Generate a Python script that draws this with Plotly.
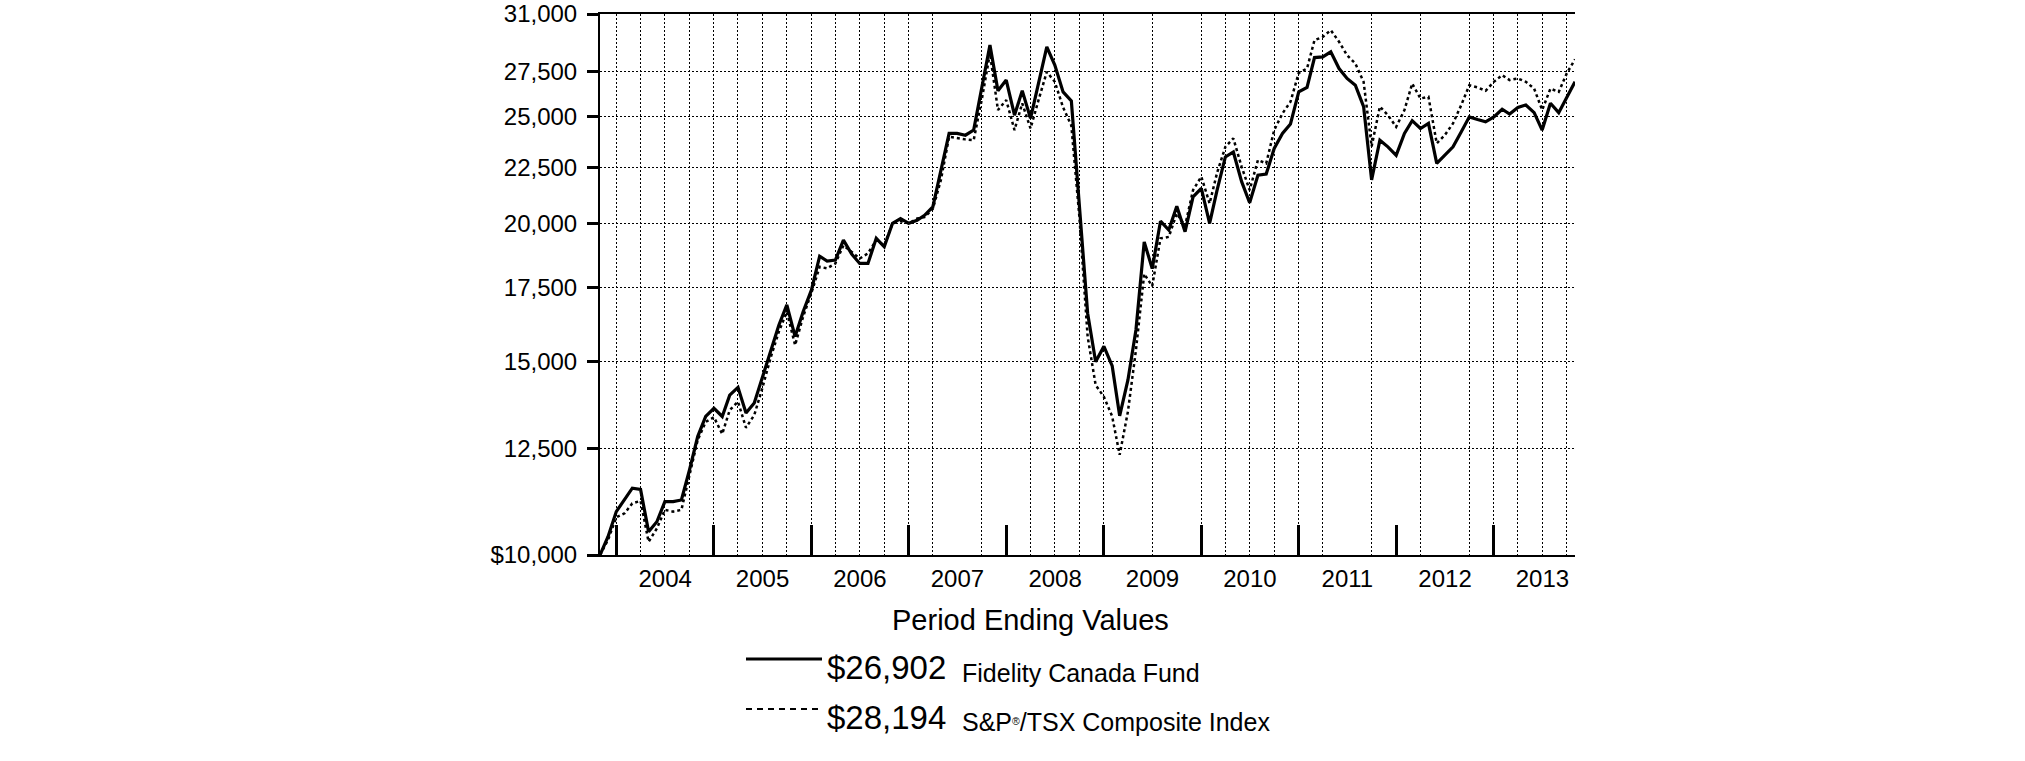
import plotly.graph_objects as go
import pandas as pd

# ---------------- data ----------------
try:
    months = pd.date_range("2003-10-31", "2013-10-31", freq="ME")
except ValueError:
    months = pd.date_range("2003-10-31", "2013-10-31", freq="M")
month_dates = list(months.strftime("%Y-%m-%d"))

fund_values = [
    10000, 10390, 10950, 11220, 11500, 11470, 10500, 10720, 11180, 11180,
    11220, 11940, 12810, 13360, 13590, 13360, 13970, 14200, 13460, 13740,
    14470, 15320, 16170, 16870, 15790, 16630, 17400, 18680, 18490, 18530,
    19320, 18760, 18400, 18400, 19390, 19050, 20010, 20210, 20010, 20140,
    20350, 20710, 22300, 24150, 24150, 24060, 24320, 26440, 29050, 26400,
    27000, 25090, 26400, 24920, 26900, 28940, 27860, 26340, 25850, 20720,
    16580, 14980, 15470, 14850, 13380, 14420, 16010, 19250, 18200, 20100,
    19730, 20740, 19660, 21150, 21530, 20010, 21450, 22990, 23230, 21830,
    20890, 22130, 22180, 23400, 24150, 24630, 26340, 26590, 28300, 28340,
    28640, 27660, 27090, 26710, 25540, 21910, 23810, 23480, 23070, 24150,
    24800, 24400, 24660, 22680, 23070, 23480, 24230, 25000, 24860, 24740,
    25000, 25400, 25150, 25500, 25630, 25220, 24320, 25720, 25220, 26040,
    26902,
]

index_values = [
    10000, 10320, 10820, 10910, 11140, 11200, 10280, 10570, 10990, 10950,
    10990, 11780, 12720, 13210, 13340, 12880, 13540, 13780, 13050, 13400,
    14170, 15100, 15950, 16630, 15510, 16460, 17300, 18270, 18210, 18400,
    19110, 18850, 18590, 18790, 19320, 19110, 20010, 20100, 20010, 20210,
    20270, 20620, 21900, 23980, 23900, 23850, 23810, 25890, 28550, 25360,
    25890, 24320, 25720, 24400, 25890, 27470, 26900, 25500, 24550, 20290,
    15790, 14270, 13920, 13360, 12330, 13500, 15350, 18000, 17550, 19390,
    19450, 20430, 19900, 21450, 22060, 20860, 22240, 23480, 23900, 22520,
    21450, 22840, 22680, 24320, 25180, 25800, 27410, 27660, 29350, 29550,
    29970, 29250, 28440, 27950, 26900, 23500, 25540, 25090, 24480, 25360,
    26800, 25980, 26070, 23650, 24060, 24660, 25630, 26710, 26590, 26400,
    26900, 27280, 27000, 27090, 26900, 26520, 25360, 26520, 26340, 27380,
    28194,
]

fund_name = "Fidelity Canada Fund"
index_name = "S&amp;P<span style='font-size:15px'><sup>®</sup></span>/TSX Composite Index"
fund_end_label = "$26,902"
index_end_label = "$28,194"
axis_title = "Period Ending Values"

year_labels = ["2004", "2005", "2006", "2007", "2008", "2009", "2010", "2011", "2012", "2013"]
year_label_dates = [f"{y}-07-01" for y in year_labels]
year_boundary_dates = [f"{int(y) - 1}-12-31" for y in year_labels]

y_tick_values = [10000, 12500, 15000, 17500, 20000, 22500, 25000, 27500, 31000]
y_tick_text = ["$10,000", "12,500", "15,000", "17,500", "20,000", "22,500", "25,000", "27,500", "31,000"]

# quarter-end grid lines (a few are absent in the original)
skipped_grid = {"2007-06-30", "2007-12-31", "2009-03-31", "2009-09-30",
                "2011-06-30", "2011-12-31", "2012-06-30"}
grid_dates = [d for d in month_dates[2::3] if d not in skipped_grid]

# ---------------- layout geometry ----------------
W, H = 2025, 761
L, R, T, B = 600, 450, 14, 206
PW, PH = W - L - R, H - T - B

def px_x(px):
    return (px - L) / PW

def px_y(py):
    return (T + PH - py) / PH

FONT = "Liberation Sans, Arial, Helvetica, sans-serif"
x_range = [month_dates[0], month_dates[-1]]

fig = go.Figure()
fig.add_trace(go.Scatter(
    x=month_dates, y=index_values, mode="lines", xaxis="x2",
    line=dict(color="black", width=2.5, dash="3px,3px"),
    name="S&P/TSX Composite Index", showlegend=False, hoverinfo="skip",
))
fig.add_trace(go.Scatter(
    x=month_dates, y=fund_values, mode="lines",
    line=dict(color="black", width=3.2),
    name=fund_name, showlegend=False, hoverinfo="skip",
))

fig.update_layout(
    width=W, height=H,
    margin=dict(l=L, r=R, t=T, b=B, pad=0, autoexpand=False),
    paper_bgcolor="white", plot_bgcolor="white",
    font=dict(family=FONT, color="black", size=24),
    showlegend=False,
    xaxis=dict(
        type="date", range=x_range, automargin=False,
        tickmode="array", tickvals=year_label_dates, ticktext=year_labels,
        ticks="", showgrid=False, zeroline=False,
        showline=True, linecolor="black", linewidth=2,
        tickfont=dict(family=FONT, size=24, color="black"),
        ticklabelstandoff=1,
        minor=dict(tickmode="array", tickvals=year_boundary_dates, ticks="inside",
                   ticklen=30, tickwidth=3, tickcolor="black", showgrid=False),
    ),
    xaxis2=dict(
        type="date", range=x_range, overlaying="x", side="top", anchor="y",
        automargin=False,
        tickmode="array", tickvals=grid_dates, showticklabels=False, ticks="",
        showgrid=True, gridcolor="black", gridwidth=1, griddash="2px,2px",
        showline=True, linecolor="black", linewidth=2, zeroline=False,
    ),
    yaxis=dict(
        type="log", range=[4, 4.491362], automargin=False,
        tickmode="array", tickvals=y_tick_values, ticktext=y_tick_text,
        ticks="outside", ticklen=11, tickwidth=3, tickcolor="black",
        showgrid=True, gridcolor="black", gridwidth=1, griddash="2px,2px",
        showline=True, linecolor="black", linewidth=2, zeroline=False,
        tickfont=dict(family=FONT, size=24, color="black"),
        ticklabelstandoff=5,
    ),
)

annotations = [
    dict(text=axis_title, x=px_x(1030), y=px_y(620), xanchor="center", yanchor="middle",
         font=dict(family=FONT, size=29, color="black")),
    dict(text=fund_end_label, x=px_x(825), y=px_y(667), xanchor="left", yanchor="middle",
         font=dict(family=FONT, size=33, color="black")),
    dict(text=fund_name, x=px_x(960), y=px_y(673), xanchor="left", yanchor="middle",
         font=dict(family=FONT, size=25, color="black")),
    dict(text=index_end_label, x=px_x(825), y=px_y(717), xanchor="left", yanchor="middle",
         font=dict(family=FONT, size=33, color="black")),
    dict(text=index_name, x=px_x(960), y=px_y(722), xanchor="left", yanchor="middle",
         font=dict(family=FONT, size=25, color="black")),
]
for a in annotations:
    a.update(xref="paper", yref="paper", showarrow=False)
fig.update_layout(annotations=annotations)

fig.update_layout(shapes=[
    dict(type="line", xref="paper", yref="paper", x0=px_x(746), x1=px_x(822),
         y0=px_y(659), y1=px_y(659), line=dict(color="black", width=3)),
    dict(type="line", xref="paper", yref="paper", x0=px_x(746), x1=px_x(822),
         y0=px_y(709), y1=px_y(709), line=dict(color="black", width=2, dash="6px,5px")),
])

fig.write_html("out.html")
